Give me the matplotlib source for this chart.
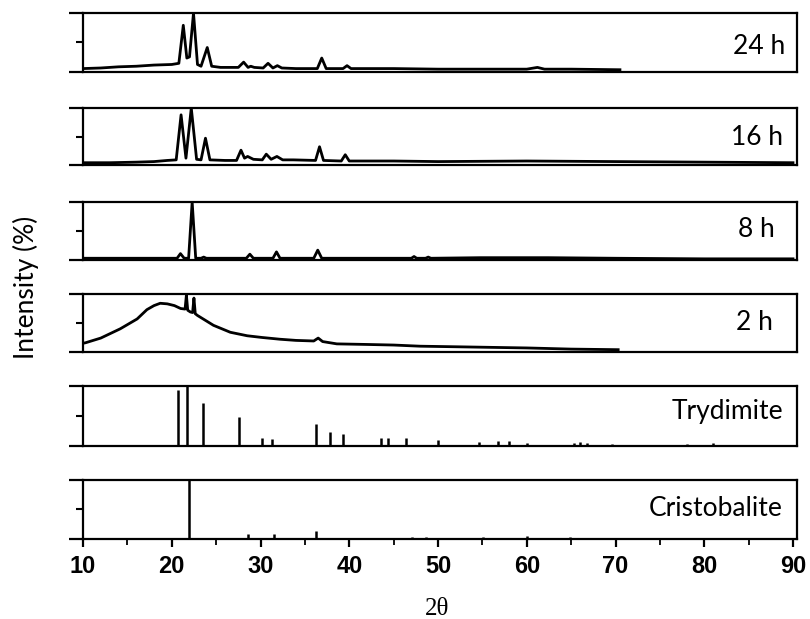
import matplotlib
matplotlib.use("Agg")
import matplotlib.pyplot as plt
from matplotlib.ticker import MultipleLocator

# XRD curves (2theta, intensity in % of panel height)
h24_2theta = [10, 12, 14, 16, 18, 20, 20.8, 21.3, 21.7, 22.0, 22.45, 22.9, 23.3, 24.0, 24.5, 25.5,
              27.5, 28.1, 28.6, 28.9, 29.3, 30.3, 30.85, 31.4, 31.9, 32.4, 34, 36.4, 36.9, 37.4,
              39.3, 39.75, 40.2, 45, 50, 55, 60, 61.2, 62, 65, 70.5]
h24_int = [5, 6, 8, 9, 11, 12, 14, 79, 23, 25, 100, 12, 9, 41, 9, 7,
           7, 16, 7, 9, 7, 6, 14, 6, 10, 6, 5, 5, 23, 5,
           5, 10, 5, 5, 4, 4, 4, 7, 4, 4, 3]

h16_2theta = [10, 13, 16, 18, 19.5, 20.5, 21.05, 21.6, 22.2, 22.8, 23.3, 23.8, 24.3, 26, 27.3,
              27.8, 28.2, 28.55, 29.2, 30.2, 30.65, 31.2, 31.85, 32.5, 33.7, 36.2, 36.65, 37.1,
              39.1, 39.55, 40.0, 45, 50, 60, 70, 80, 90]
h16_int = [4, 4, 5, 6, 8, 9, 88, 12, 100, 10, 9, 47, 9, 8, 8,
           26, 12, 15, 10, 9, 19, 10, 15, 9, 9, 8, 32, 8,
           7, 18, 7, 7, 6, 7, 6, 5, 4]

h8_2theta = [10, 15, 20, 20.6, 20.98, 21.4, 21.9, 22.3, 22.7, 23.3, 23.6, 23.9, 26, 28.4, 28.8,
             29.2, 31.4, 31.8, 32.2, 36.0, 36.45, 36.9, 40, 47.0, 47.3, 47.6, 48.6, 48.9, 49.2,
             54.8, 57.6, 61.1, 62.4, 70, 80, 90]
h8_int = [3, 3, 3, 3, 11, 3, 3, 100, 3, 3, 5, 3, 3, 3, 10,
          3, 3, 14, 3, 3, 17, 3, 3, 3, 6, 3, 3, 5, 3,
          4, 4, 4, 4, 3, 2, 2]

h2_2theta = [10, 10.3, 12.0, 14.2, 16.1, 17.2, 18.0, 18.7, 19.5, 20.3, 21.0, 21.5, 21.65, 21.8,
             22.1, 22.35, 22.5, 22.65, 22.9, 24.7, 26.6, 28.5, 30.2, 32.2, 34, 36.0, 36.5, 37.0,
             38.6, 42, 45, 48, 52.1, 56, 60, 65, 70.3]
h2_int = [15, 16, 24, 40, 57, 73, 80, 84, 83, 80, 75, 74, 98, 72,
          69, 68, 93, 66, 63, 46, 34, 28, 25, 22, 20, 19, 24, 18,
          14, 13, 12, 10, 9, 8, 7, 5, 4]

# reference stick patterns
tryd_2theta = [20.68, 21.73, 23.53, 27.62, 30.18, 31.3, 36.3, 37.8, 39.3, 43.6, 44.4, 46.4, 49.95,
               54.6, 56.8, 57.95, 60.0, 65.3, 66.0, 66.8, 69.6, 78.0, 81.0]
tryd_int = [94, 100, 71, 49, 13, 12, 36, 23, 20, 13, 13, 14, 10,
            6, 8, 8, 5, 5, 6, 5, 4, 4, 5]

crist_2theta = [21.9, 28.55, 31.5, 36.2, 47.1, 48.6, 55.1, 60.0, 64.9]
crist_int = [100, 7, 8, 13, 3, 3, 3, 4, 3]

labels = ["24 h", "16 h", "8 h", "2 h", "Trydimite", "Cristobalite"]
xticks = [10, 20, 30, 40, 50, 60, 70, 80, 90]

# layout in pixels (top, bottom) of every panel
W, H = 810, 619
left_px, right_px = 83, 797
panel_px = [(13, 71.5), (108, 165), (202, 260), (294, 352), (386, 446), (480, 538.5)]
label_y = [0.42, 0.49, 0.52, 0.51, 0.57, 0.52]
label_x = [785, 783, 775, 773, 783, 783]

fig = plt.figure(figsize=(8.1, 6.19), dpi=100)

curves = [(h24_2theta, h24_int), (h16_2theta, h16_int), (h8_2theta, h8_int), (h2_2theta, h2_int)]
sticks = [(tryd_2theta, tryd_int), (crist_2theta, crist_int)]

for i, (top, bot) in enumerate(panel_px):
    ax = fig.add_axes([left_px / W, 1 - bot / H, (right_px - left_px) / W, (bot - top) / H])
    if i < 4:
        x, y = curves[i]
        ax.plot(x, y, color="black", lw=2.0)
    else:
        x, y = sticks[i - 4]
        ax.vlines(x, 0, y, color="black", lw=1.8)
    ax.set_xlim(10, 90.45)
    ax.set_ylim(0, 100)
    for sp in ax.spines.values():
        sp.set_linewidth(1.6)
    # y ticks: long at the ends, short in the middle
    ax.set_yticks([0, 100])
    ax.yaxis.set_minor_locator(MultipleLocator(50))
    ax.tick_params(axis="y", which="major", length=10, width=1.6, direction="out", labelleft=False)
    ax.tick_params(axis="y", which="minor", length=5, width=1.5, direction="out")
    if i < 5:
        ax.set_xticks([])
    else:
        ax.set_xticks(xticks)
        ax.xaxis.set_minor_locator(MultipleLocator(5))
        ax.tick_params(axis="x", which="major", length=6, width=1.6, direction="out", pad=6)
        ax.tick_params(axis="x", which="minor", length=4, width=1.3, direction="out")
        for lab in ax.get_xticklabels():
            lab.set_fontfamily("Liberation Sans")
            lab.set_fontweight("bold")
            lab.set_fontsize(17)
    ax.text(label_x[i] / W, 1 - (bot - label_y[i] * (bot - top)) / H, labels[i],
            transform=fig.transFigure, ha="right", va="center",
            fontsize=19, family="Lato", color="black")

# axis titles
fig.text(26 / W, 1 - 287 / H, "Intensity (%)", rotation=90, ha="center", va="center",
         fontsize=19, family="Lato", color="black")
fig.text(437 / W, 1 - 609 / H, "2θ", ha="center", va="center",
         fontsize=18, family="Liberation Serif")

plt.savefig("out.png", dpi=100)
